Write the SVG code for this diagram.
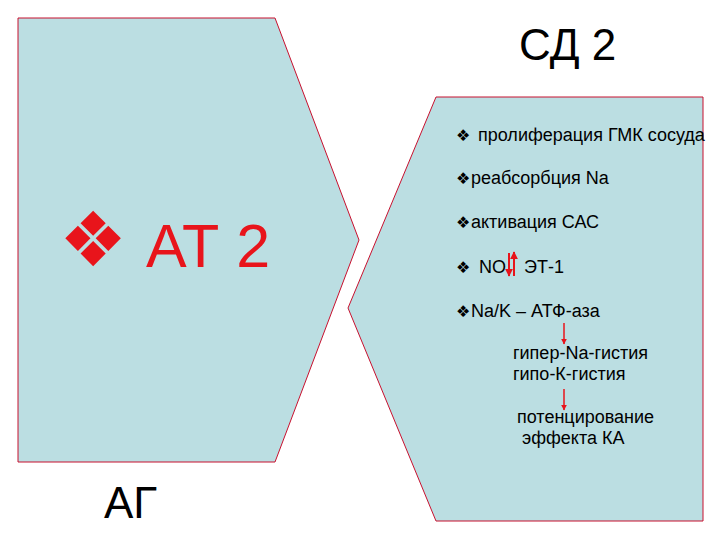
<svg xmlns="http://www.w3.org/2000/svg" width="720" height="540" viewBox="0 0 720 540">
<defs>
<style>
.panel{fill:#BBDEE2;stroke:#C8102E;stroke-width:1}
.t{font-family:"Liberation Sans",Arial,sans-serif;fill:#000}
.big{font-size:44px}
.b{font-size:18px}
.blt{font-family:"DejaVu Sans",sans-serif;font-size:16px;fill:#000}
.red{font-family:"Liberation Sans",Arial,sans-serif;font-size:61px;fill:#E8141B}
.arr{stroke:#E8141B;stroke-width:1.5;fill:none}
</style>
<marker id="ah" viewBox="0 0 10 10" refX="9" refY="5" markerWidth="4" markerHeight="5" orient="auto" markerUnits="strokeWidth">
<path d="M0,0 L10,5 L0,10 z" fill="#E8141B"/>
</marker>
</defs>
<rect width="720" height="540" fill="#fff"/>
<g id="node-ag">
<polygon class="panel" points="18,18 275,18 359,240 275,462 18,462"/>
<text class="blt" x="59" y="266" style="font-size:76px;fill:#E8141B">❖</text>
<text class="red" x="146" y="267">АТ 2</text>
<text class="t big" x="104" y="518">АГ</text>
</g>
<g id="node-sd2">
<polygon class="panel" points="436,97 703,97 703,521 436,521 348,308"/>
<text class="t big" x="519" y="60">СД 2</text>
<text class="blt" x="456" y="141">❖</text><text class="t b" x="478" y="141">пролиферация ГМК сосуда</text>
<text class="blt" x="456" y="184">❖</text><text class="t b" x="471" y="184">реабсорбция Na</text>
<text class="blt" x="456" y="228">❖</text><text class="t b" x="471" y="228">активация САС</text>
<text class="blt" x="456" y="273">❖</text><text class="t b" x="479" y="273">NO</text><text class="t b" x="524" y="273">ЭТ-1</text>
<text class="blt" x="456" y="317">❖</text><text class="t b" x="471" y="317">Na/K – АТФ-аза</text>
<text class="t b" x="513" y="359">гипер-Na-гистия</text>
<text class="t b" x="513" y="380">гипо-К-гистия</text>
<text class="t b" x="517" y="423">потенцирование</text>
<text class="t b" x="522" y="444">эффекта КА</text>
</g>
<g id="connectors">
<line class="arr" x1="509" y1="253" x2="509" y2="276" marker-end="url(#ah)" style="stroke-width:2"/>
<line class="arr" x1="514" y1="276" x2="514" y2="252" marker-end="url(#ah)" style="stroke-width:2"/>
<line class="arr" x1="564" y1="323" x2="564" y2="344" marker-end="url(#ah)"/>
<line class="arr" x1="564" y1="389" x2="564" y2="410" marker-end="url(#ah)"/>
</g>
</svg>
